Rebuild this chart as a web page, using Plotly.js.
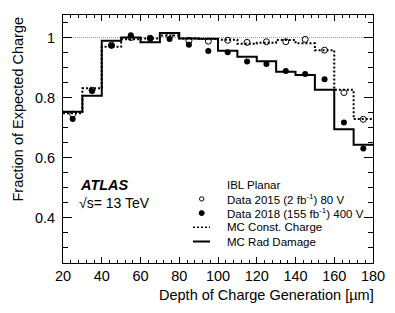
<!DOCTYPE html>
<html>
<head>
<meta charset="utf-8">
<script src="https://cdn.plot.ly/plotly-3.0.1.min.js"></script>
<style>html,body{margin:0;padding:0;background:#fff;}#chart{width:395px;height:313px;}</style>
</head>
<body>
<div id="chart"></div>
<script>
// Bin centres (µm), bin width 10 µm
const binCenters = [25, 35, 45, 55, 65, 75, 85, 95, 105, 115, 125, 135, 145, 155, 165, 175];
const binWidth = 10;
// MC histograms
const mcConstCharge = [0.748, 0.831, 0.969, 0.994, 0.997, 1.007, 0.997, 0.995, 0.993, 0.979, 0.983, 0.992, 0.981, 0.958, 0.826, 0.729];
const mcRadDamage   = [0.753, 0.806, 0.989, 1.000, 0.984, 1.015, 0.997, 0.996, 0.956, 0.936, 0.921, 0.886, 0.875, 0.826, 0.695, 0.643];
// Data points
const data2015 = [0.745, 0.825, 0.975, 1.000, 0.998, 1.005, 0.990, 0.988, 0.991, 0.984, 0.986, 0.986, 0.994, 0.958, 0.817, 0.728];
const data2018 = [0.729, 0.822, 0.973, 1.008, 0.997, 0.995, 0.976, 0.955, 0.951, 0.920, 0.912, 0.889, 0.879, 0.861, 0.717, 0.631];
const referenceLevel = 1;
// Axis ranges
const xRange = [20, 180];
const yRange = [0.25, 1.075];

const legendLabels = ["IBL Planar", "Data 2015 (2 fb<sup>-1</sup>) 80 V", "Data 2018 (155 fb<sup>-1</sup>) 400 V", "MC Const. Charge", "MC Rad Damage"];

function stepX(centers, w) {
  const xs = centers.map(c => c - w / 2);
  xs.push(centers[centers.length - 1] + w / 2);
  return xs;
}
function stepY(vals) {
  const ys = vals.slice();
  ys.push(vals[vals.length - 1]);
  return ys;
}

const FONT = "Liberation Sans, Arial, Helvetica, sans-serif";
const dotDash = "2px,2px";

const traces = [
  {x: stepX(binCenters, binWidth), y: stepY(mcConstCharge), mode: "lines", line: {shape: "hv", color: "#000", width: 2, dash: dotDash}, hoverinfo: "skip"},
  {x: stepX(binCenters, binWidth), y: stepY(mcRadDamage), mode: "lines", line: {shape: "hv", color: "#000", width: 2}, hoverinfo: "skip"},
  {x: binCenters, y: data2015, mode: "markers", marker: {symbol: "circle-open", size: 6, color: "#000", line: {width: 1, color: "#000"}}},
  {x: binCenters, y: data2018, mode: "markers", marker: {symbol: "circle", size: 6, color: "#000"}}
];

// pixel helpers for annotation placement (plot area 63..373 x 15..263)
const L = 63, R = 373, T = 15, B = 263;
const px = x => (x - L) / (R - L);
const py = y => (B - y) / (B - T);

const rowY = [184.7, 198.9, 213.1, 227.3, 241.5];
const textX = 225, symX = 201.7, lineX0 = 193, lineX1 = 210;

const annotations = [
  {text: "Fraction of Expected Charge", textangle: -90, xref: "paper", yref: "paper", x: px(17), y: 1, xanchor: "center", yanchor: "top", showarrow: false, font: {family: FONT, size: 14.5, color: "#000"}},
  {text: "Depth of Charge Generation [µm]", xref: "paper", yref: "paper", x: px(376), y: py(295), xanchor: "right", yanchor: "middle", showarrow: false, font: {family: FONT, size: 14.5, color: "#000"}},
  {text: "<b><i>ATLAS</i></b>", xref: "paper", yref: "paper", x: px(78), y: py(185), xanchor: "left", yanchor: "middle", showarrow: false, font: {family: FONT, size: 14.5, color: "#000"}},
  {text: "√s= 13 TeV", xref: "paper", yref: "paper", x: px(77), y: py(203), xanchor: "left", yanchor: "middle", showarrow: false, font: {family: FONT, size: 14, color: "#000"}}
];
legendLabels.forEach((t, i) => {
  annotations.push({text: t, xref: "paper", yref: "paper", x: px(textX), y: py(rowY[i]), xanchor: "left", yanchor: "middle", showarrow: false, font: {family: FONT, size: 11.5, color: "#000"}});
});

const shapes = [
  {type: "line", xref: "paper", yref: "y", x0: 0, x1: 1, y0: referenceLevel, y1: referenceLevel, line: {color: "#9a9a9a", width: 1, dash: "1px,1px"}, layer: "below"},
  {type: "circle", xref: "paper", yref: "paper", xsizemode: "pixel", ysizemode: "pixel", xanchor: px(symX), yanchor: py(rowY[1]), x0: -2.2, x1: 2.2, y0: -2.2, y1: 2.2, line: {color: "#000", width: 1}},
  {type: "circle", xref: "paper", yref: "paper", xsizemode: "pixel", ysizemode: "pixel", xanchor: px(symX), yanchor: py(rowY[2]), x0: -2.5, x1: 2.5, y0: -2.5, y1: 2.5, line: {color: "#000", width: 1}, fillcolor: "#000"},
  {type: "line", xref: "paper", yref: "paper", x0: px(lineX0), x1: px(lineX1), y0: py(rowY[3]), y1: py(rowY[3]), line: {color: "#000", width: 1.5, dash: dotDash}},
  {type: "line", xref: "paper", yref: "paper", x0: px(lineX0), x1: px(lineX1), y0: py(rowY[4]), y1: py(rowY[4]), line: {color: "#000", width: 2}}
];

const axisCommon = {
  showgrid: false, zeroline: false, showline: true, linecolor: "#000", linewidth: 1, mirror: "allticks",
  ticks: "inside", tickcolor: "#000", tickwidth: 1,
  tickfont: {family: FONT, size: 14.5, color: "#000"}
};

const layout = {
  width: 395, height: 313,
  margin: {l: L, r: 395 - R, t: T, b: 313 - B},
  paper_bgcolor: "#fff", plot_bgcolor: "#fff",
  showlegend: false,
  xaxis: Object.assign({}, axisCommon, {range: xRange, tick0: 0, dtick: 20, ticklen: 6,
    minor: {dtick: 4, ticklen: 3, tickcolor: "#000", ticks: "inside"}}),
  yaxis: Object.assign({}, axisCommon, {range: yRange, tick0: 0, dtick: 0.2, ticklen: 9, ticklabelstandoff: 4,
    minor: {dtick: 0.05, ticklen: 5, tickcolor: "#000", ticks: "inside"}}),
  annotations: annotations,
  shapes: shapes
};

Plotly.newPlot("chart", traces, layout, {staticPlot: true, displayModeBar: false});
</script>
</body>
</html>
